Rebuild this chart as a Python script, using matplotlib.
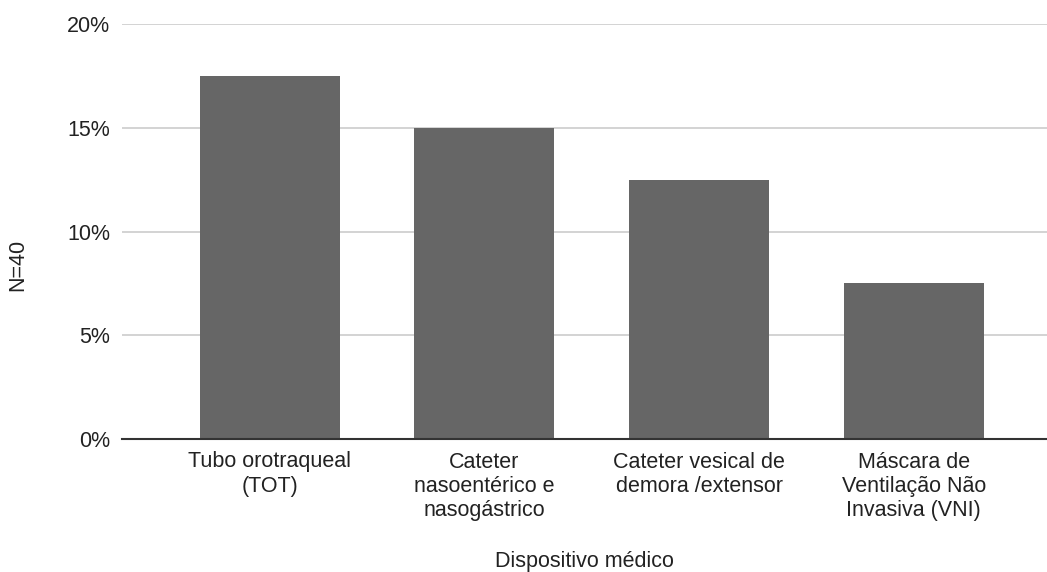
import matplotlib.pyplot as plt
import numpy as np
from matplotlib.ticker import FuncFormatter

categorias = ["Tubo orotraqueal\n(TOT)",
              "Cateter\nnasoentérico e\nnasogástrico",
              "Cateter vesical de\ndemora /extensor",
              "Máscara de\nVentilação Não\nInvasiva (VNI)"]
percentuais = [17.5, 15.0, 12.5, 7.5]
yticks = [0, 5, 10, 15, 20]

plt.rcParams['font.family'] = ['Liberation Sans', 'DejaVu Sans']

fig = plt.figure(figsize=(10.47, 5.72), dpi=100)
ax = fig.add_axes([122/1047, 133/572, 925/1047, 415/572])

x = np.arange(len(categorias))
ax.bar(x, percentuais, width=0.652, color='#666666', zorder=3)

ax.set_xlim(-0.687, 3.62)
ax.set_ylim(0, 20)
ax.set_yticks(yticks)
ax.yaxis.set_major_formatter(FuncFormatter(lambda v, p: f"{int(v)}%"))
ax.set_xticks(x)
ax.set_xticklabels(categorias)

ax.grid(axis='y', color='#cccccc', linewidth=1.2, zorder=0)
for s in ['top', 'right', 'left']:
    ax.spines[s].set_visible(False)
ax.spines['bottom'].set_color('#333333')
ax.spines['bottom'].set_linewidth(1.5)
ax.spines['bottom'].set_zorder(4)
ax.tick_params(axis='both', length=0, labelsize=15.5, labelcolor='#222222')
ax.tick_params(axis='y', pad=8.5)
ax.tick_params(axis='x', pad=9)

fig.text(584/1047, 1 - 562/572, "Dispositivo médico", ha='center', va='center',
         fontsize=15.5, color='#222222')
fig.text(18/1047, 1 - 265/572, "N=40", ha='center', va='center', rotation=90,
         fontsize=15.5, color='#222222')

fig.savefig("out.png", dpi=100)
